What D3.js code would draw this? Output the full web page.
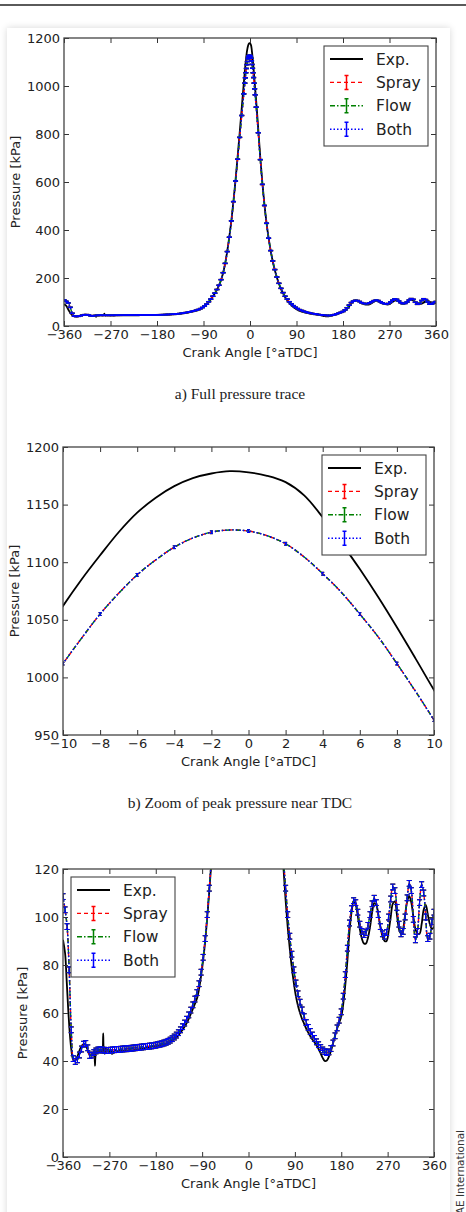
<!DOCTYPE html>
<html><head><meta charset="utf-8">
<script src="https://cdn.jsdelivr.net/npm/d3@7"></script>
<style>
html,body{margin:0;padding:0;background:#fff;width:466px;height:1212px;overflow:hidden;}
#topline{position:absolute;left:0;top:4px;width:466px;height:1.5px;background:#5a5a5a;}
#card{position:absolute;left:7px;top:28px;width:443px;height:1230px;background:#fff;box-shadow:0 0 7px rgba(0,0,0,0.16);}
svg{position:absolute;left:0;top:0;}
</style></head><body>
<div id="topline"></div><div id="card"></div>
<svg id="chart" width="466" height="1212"></svg>
<script>
// ---- data: [crank angle (deg aTDC), pressure (kPa)] ----
const expData = [[-360,90.5],[-356,85],[-353,74],[-350,62],[-347,52],[-344,45],[-341,41],[-338,40],[-335,40.5],[-331,42.5],[-327,45],[-323,46.5],[-319,47],[-316,46.5],[-312,44.5],[-308,42.5],[-305,42.5],[-302,43.5],[-300,42],[-299,45],[-298,38],[-297,42],[-295,44],[-292,43.5],[-289,44.5],[-286,43.5],[-284,45],[-283,44],[-282,51.5],[-281,45],[-279,43],[-277,45.5],[-275,44],[-272,45],[-270,43.5],[-268,44.5],[-265,43],[-262,43.5],[-258,44.5],[-254,44],[-250,44.5],[-245,44],[-240,44.5],[-235,44.2],[-230,44.6],[-225,44.3],[-220,44.7],[-215,44.8],[-210,45],[-205,45.2],[-200,45.5],[-195,45.6],[-190,45.9],[-185,46],[-180,46.2],[-175,46.4],[-170,46.6],[-165,46.8],[-160,47.2],[-155,47.6],[-150,48.2],[-145,48.9],[-140,49.8],[-135,51],[-130,52.4],[-125,54],[-120,55.8],[-116,57.6],[-112,59.6],[-108,61.7],[-104,63.8],[-100,66],[-96,70],[-92,75.5],[-88,82],[-84,90],[-80,100],[-76,111],[-72,123],[-68,136],[-64,151],[-60,169],[-56,192],[-52,222],[-48,262],[-44,312],[-40,372],[-36,440],[-32,520],[-28,608],[-24,704],[-20,804],[-16,908],[-12,1012],[-10,1062],[-9,1085],[-8,1106],[-7,1126],[-6,1143],[-5,1156],[-4,1166],[-3,1173],[-2,1177],[-1,1179],[0,1178],[1,1175],[2,1169.5],[3,1158],[4,1139],[5,1117],[6,1094],[7,1069.5],[8,1043.5],[9,1016.5],[10,989],[12,936],[16,820],[20,700],[24,595],[28,505],[32,430],[36,367],[40,314],[44,270],[48,233],[52,202],[56,176],[60,154],[64,136],[68,120],[72,107],[76,96],[80,87],[84,79],[88,72.5],[92,67],[96,63],[100,60],[104,57.5],[108,55.5],[112,53.5],[116,51.8],[120,50.3],[124,49],[128,47.8],[132,46.5],[136,45],[140,43.2],[144,41.3],[148,40],[152,40.2],[156,41.8],[160,44.2],[164,47.3],[168,50.5],[172,53.5],[176,56],[180,58.5],[184,64],[188,72],[192,82],[196,94],[200,102],[204,106.3],[208,105],[212,100.5],[216,95],[220,91],[224,89],[228,89],[232,91.5],[236,96],[240,102],[244,105.8],[248,105],[252,101],[256,96],[260,92],[264,90],[268,90],[272,94],[276,100],[280,105.5],[284,106.5],[288,101],[292,95],[296,93],[300,95],[304,101],[308,106.5],[312,108.7],[316,106],[320,100],[324,95],[328,93],[332,93],[336,97],[340,103],[344,105],[348,101],[352,97],[356,95],[360,96]];

const simData = [[-360,108.5],[-356,103],[-352,96],[-348,78],[-344,53],[-340,41],[-336,39.8],[-332,40.5],[-328,42.5],[-324,45],[-320,47],[-316,47.3],[-312,45.5],[-308,42.3],[-304,42.5],[-300,43.5],[-296,44.2],[-292,44.6],[-288,44.7],[-284,44.6],[-280,44.5],[-276,44.4],[-272,44.4],[-268,44.5],[-264,44.6],[-260,44.7],[-256,44.8],[-252,44.8],[-248,44.9],[-244,45],[-240,45.1],[-236,45.1],[-232,45.2],[-228,45.3],[-224,45.4],[-220,45.5],[-216,45.6],[-212,45.7],[-208,45.8],[-204,45.9],[-200,46],[-196,46.1],[-192,46.2],[-188,46.3],[-184,46.4],[-180,46.6],[-176,46.8],[-172,47],[-168,47.2],[-164,47.5],[-160,47.8],[-156,48.2],[-152,48.7],[-148,49.3],[-144,50],[-140,50.8],[-136,51.8],[-132,53],[-128,54.3],[-124,55.8],[-120,57.4],[-116,59.2],[-112,61.2],[-108,63.4],[-104,65.8],[-100,68.5],[-96,72.2],[-92,77],[-88,83.2],[-84,91],[-80,101],[-76,112],[-72,124],[-68,137],[-64,152],[-60,170],[-56,193],[-52,222],[-48,261],[-44,310],[-40,370],[-36,438],[-32,518],[-28,604],[-24,695],[-20,786],[-16,877],[-12,967],[-10,1012],[-9,1034],[-8,1055],[-7,1073],[-6,1089],[-5,1102],[-4,1113],[-3,1121],[-2,1126],[-1,1128],[0,1127],[1,1123],[2,1116],[3,1104.5],[4,1090],[5,1074],[6,1055],[7,1035],[8,1012],[9,988],[10,963],[12,912],[16,805],[20,693],[24,590],[28,502],[32,428],[36,366],[40,314],[44,271],[48,235],[52,204],[56,178],[60,157],[64,139],[68,124],[72,112],[76,101],[80,92],[84,84.5],[88,78],[92,72.5],[96,68],[100,64.5],[104,61.3],[108,58.5],[112,56],[116,54],[120,52.3],[124,50.8],[128,49.4],[132,48],[136,46.8],[140,45.6],[144,44.6],[148,43.9],[152,43.5],[156,43.8],[160,45.2],[164,47.5],[168,50.5],[172,53.8],[176,57],[180,60.5],[184,67],[188,76],[192,87],[196,97.5],[200,103.5],[204,106.8],[208,106],[212,102],[216,97],[220,94],[224,92.7],[228,93.5],[232,96.5],[236,101],[240,105.5],[244,107.8],[248,106],[252,101],[256,96],[260,93],[264,92],[268,93.5],[272,100],[276,107.5],[280,112.5],[284,111],[288,104],[292,97],[296,93],[300,94],[304,100],[308,108],[312,114],[316,111],[320,99],[324,90.5],[328,94],[332,106],[336,113.5],[340,110],[344,100],[348,91],[352,92],[356,98],[360,102]];

const simErr = 1.2; // kPa, half-height of the error bars

const seriesNames = ["Exp.", "Spray", "Flow", "Both"];
const seriesColors = ["#000000", "#ff0000", "#008000", "#0000ff"];
const seriesDash = [null, "4,3", "5,2,1.5,2", "1.5,2"];

const xTicksFull = [-360, -270, -180, -90, 0, 90, 180, 270, 360];
const xTicksZoom = [-10, -8, -6, -4, -2, 0, 2, 4, 6, 8, 10];
const yTicksFull = [0, 200, 400, 600, 800, 1000, 1200];
const yTicksPeak = [950, 1000, 1050, 1100, 1150, 1200];
const yTicksLow = [0, 20, 40, 60, 80, 100, 120];

const xLabel = "Crank Angle [°aTDC]";
const yLabel = "Pressure [kPa]";
const captions = ["a) Full pressure trace", "b) Zoom of peak pressure near TDC", ""];
const sideText = "SAE International";

// ---- layout ----
const FONT = "DejaVu Sans";
const fmt = d3.format("d");
const svg = d3.select("#chart");
const panels = [
  {x0:64, x1:436, y0:38, y1:326, xd:[-360,360], yd:[0,1200], xt:xTicksFull, yt:yTicksFull, leg:"right", ylabX:19.5, step:1, cap:2.5, capY:399},
  {x0:63, x1:434, y0:447, y1:735, xd:[-10,10], yd:[950,1200], xt:xTicksZoom, yt:yTicksPeak, leg:"right", ylabX:19, step:2, cap:1.5, capY:808},
  {x0:63, x1:434, y0:869, y1:1157, xd:[-360,360], yd:[0,120], xt:xTicksFull, yt:yTicksLow, leg:"left", ylabX:27, step:1, cap:2.5, capY:null}
];

const simSeries = [1,2,3].map(i => ({name:seriesNames[i], color:seriesColors[i], dash:seriesDash[i], data:simData}));

function styleAxis(sel){
  sel.select(".domain").remove();
  sel.attr("font-family", FONT).attr("font-size", 13);
  sel.selectAll(".tick line").attr("stroke", "#333").attr("stroke-width", 1);
  sel.selectAll(".tick text").attr("fill", "#222");
}

panels.forEach((p, i) => {
  const g = svg.append("g");
  const x = d3.scaleLinear().domain(p.xd).range([p.x0, p.x1]);
  const y = d3.scaleLinear().domain(p.yd).range([p.y1, p.y0]);
  const clipId = "clip" + i;
  svg.append("clipPath").attr("id", clipId).append("rect")
    .attr("x", p.x0).attr("y", p.y0).attr("width", p.x1 - p.x0).attr("height", p.y1 - p.y0);
  const plot = g.append("g").attr("clip-path", `url(#${clipId})`);
  const line = d3.line().x(d => x(d[0])).y(d => y(d[1])).curve(d3.curveCatmullRom.alpha(0.5));

  plot.append("path").datum(expData).attr("d", line).attr("fill", "none")
    .attr("stroke", seriesColors[0]).attr("stroke-width", 1.8).attr("stroke-linejoin", "round");

  simSeries.forEach(s => {
    plot.append("path").datum(s.data).attr("d", line).attr("fill", "none")
      .attr("stroke", s.color).attr("stroke-width", 1.4).attr("stroke-dasharray", s.dash);
    const pts = s.data.filter(d => d[0] >= p.xd[0] - 4 && d[0] <= p.xd[1] + 4 && (d[0] % p.step === 0));
    let path = "";
    pts.forEach(d => {
      const cx = x(d[0]), ya = y(d[1] - simErr), yb = y(d[1] + simErr);
      path += `M${cx},${ya}V${yb}M${cx-p.cap},${ya}H${cx+p.cap}M${cx-p.cap},${yb}H${cx+p.cap}`;
    });
    plot.append("path").attr("d", path).attr("fill", "none").attr("stroke", s.color).attr("stroke-width", 1);
  });

  // axes (ticks inward on all four sides)
  g.append("g").attr("transform", `translate(0,${p.y1})`)
    .call(d3.axisBottom(x).tickValues(p.xt).tickFormat(fmt).tickSize(-5).tickPadding(4)).call(styleAxis);
  g.append("g").attr("transform", `translate(0,${p.y0})`)
    .call(d3.axisTop(x).tickValues(p.xt).tickSize(-5).tickFormat("")).call(styleAxis);
  g.append("g").attr("transform", `translate(${p.x0},0)`)
    .call(d3.axisLeft(y).tickValues(p.yt).tickFormat(fmt).tickSize(-5).tickPadding(4)).call(styleAxis);
  g.append("g").attr("transform", `translate(${p.x1},0)`)
    .call(d3.axisRight(y).tickValues(p.yt).tickSize(-5).tickFormat("")).call(styleAxis);

  g.append("rect").attr("x", p.x0).attr("y", p.y0).attr("width", p.x1 - p.x0).attr("height", p.y1 - p.y0)
    .attr("fill", "none").attr("stroke", "#444").attr("stroke-width", 1.3);

  // axis labels
  g.append("text").attr("x", (p.x0 + p.x1) / 2).attr("y", p.y1 + 31)
    .attr("text-anchor", "middle").attr("font-family", FONT).attr("font-size", 13).attr("fill", "#222")
    .text(xLabel);
  g.append("text").attr("transform", `translate(${p.ylabX},${(p.y0 + p.y1) / 2}) rotate(-90)`)
    .attr("text-anchor", "middle").attr("font-family", FONT).attr("font-size", 13).attr("fill", "#222")
    .text(yLabel);

  // legend
  const lw = 104, lh = 100;
  const lx = p.leg === "right" ? p.x1 - 8 - lw : p.x0 + 8;
  const ly = p.y0 + 8;
  const lg = g.append("g");
  lg.append("rect").attr("x", lx).attr("y", ly).attr("width", lw).attr("height", lh)
    .attr("fill", "#fff").attr("stroke", "#444").attr("stroke-width", 1.1);
  seriesNames.forEach((name, k) => {
    const ey = ly + 13 + k * 23.4;
    const sx1 = lx + 6, sx2 = lx + 39, mid = (sx1 + sx2) / 2;
    lg.append("line").attr("x1", sx1).attr("x2", sx2).attr("y1", ey).attr("y2", ey)
      .attr("stroke", seriesColors[k]).attr("stroke-width", k === 0 ? 2 : 1.4)
      .attr("stroke-dasharray", seriesDash[k]);
    if (k > 0) {
      lg.append("path").attr("d", `M${mid},${ey-7}V${ey+7}M${mid-2},${ey-7}H${mid+2}M${mid-2},${ey+7}H${mid+2}`)
        .attr("stroke", seriesColors[k]).attr("stroke-width", 1.5).attr("fill", "none");
    }
    lg.append("text").attr("x", lx + 52).attr("y", ey).attr("dy", "0.36em")
      .attr("font-family", FONT).attr("font-size", 15.5).attr("fill", "#222").text(name);
  });

  if (p.capY) {
    svg.append("text").attr("x", 240).attr("y", p.capY).attr("text-anchor", "middle")
      .attr("font-family", "Liberation Serif").attr("font-size", 15.5).attr("fill", "#222")
      .text(captions[i]);
  }
});

svg.append("text").attr("transform", "translate(464,1130) rotate(-90)")
  .attr("text-anchor", "end").attr("font-family", FONT).attr("font-size", 10.5).attr("fill", "#333")
  .text(sideText);
</script></body></html>
